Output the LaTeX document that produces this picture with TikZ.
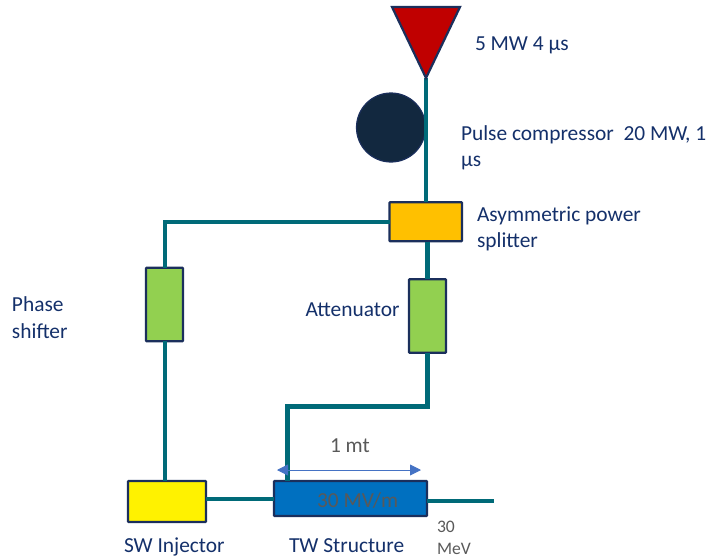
\documentclass[tikz,border=0pt]{standalone}
\usepackage{fontspec}
\setmainfont{Carlito}
\definecolor{teal1}{HTML}{006A78}
\definecolor{navy1}{HTML}{1B2F5C}
\definecolor{txt1}{HTML}{14306A}
\definecolor{grey1}{HTML}{595959}
\definecolor{dark1}{HTML}{12283F}
\definecolor{red1}{HTML}{C00000}
\definecolor{orange1}{HTML}{FFC000}
\definecolor{green1}{HTML}{92D050}
\definecolor{blue1}{HTML}{0070C0}
\definecolor{arrow1}{HTML}{4472C4}
\usetikzlibrary{arrows.meta}
\tikzset{
  box/.style={draw=navy1,line width=2.2pt,rounded corners=0.6pt,minimum width=#1,inner sep=0pt,outer sep=0pt},
  wire/.style={draw=teal1,line width=4pt},
  wirethick/.style={draw=teal1,line width=5pt},
  lab/.style={text=txt1,font=\fontsize{21.4}{26}\selectfont,inner sep=0pt,outer sep=0pt,align=left},
  glab/.style={text=grey1,font=\fontsize{21.4}{26}\selectfont,inner sep=0pt,outer sep=0pt,align=left},
}
\begin{document}
\begin{tikzpicture}[x=1pt,y=-1pt]
\useasboundingbox (0,0) rectangle (710,557);
\coordinate (tip) at (426,78);
\node[circle,draw=navy1,fill=dark1,line width=1.2pt,minimum size=69pt,inner sep=0pt,outer sep=0pt] (comp) at (391,127.5) {};
\node[box=72.5pt,fill=orange1,minimum height=39pt] (split) at (425.75,221.75) {};
\node[box=37pt,fill=green1,minimum height=73.5pt] (phase) at (164.5,304.5) {};
\node[box=37pt,fill=green1,minimum height=73.5pt] (atten) at (427.5,316) {};
\node[box=78pt,fill=yellow,minimum height=41pt] (inj) at (167,501.5) {};
\node[box=153pt,fill=blue1,minimum height=35pt] (tw) at (350.5,498.5) {};
\coordinate (out) at (494,501);
\coordinate (bend1) at (164.5,222);
\coordinate (bend2) at (427.5,406);
\coordinate (bend3) at (287.5,406);
\draw[wire] (tip) -- (split.north -| tip);
\draw[wire] (split.west |- bend1) -- (bend1) -- (phase.north);
\draw[wirethick] (427.5,241.5) -- (atten.north);
\draw[wirethick,line join=miter] (atten.south) -- (bend2) -- (bend3) -- (bend3 |- tw.north);
\draw[wire] (phase.south) -- (phase.south |- inj.north);
\draw[wire] (inj.east |- 0,499) -- (tw.west |- 0,499);
\draw[wire] (tw.east |- out) -- (out);
\draw[navy1,fill=red1,line width=2.2pt,line join=miter] (392,7) -- (460,7) -- (tip) -- cycle;
\coordinate (al) at (277,470);
\coordinate (ar) at (421,470);
\draw[arrow1,line width=0.9pt,{Triangle[length=11pt,width=11pt]}-{Triangle[length=11pt,width=11pt]}] (al) -- (ar);
\node[lab,anchor=base west] (t1) at (475,50.5) {5 MW 4 µs};
\node[lab,anchor=base west] (t2) at (461,140) {Pulse compressor\ \ 20 MW, 1};
\node[lab,anchor=base west] (t2b) at (461,166) {µs};
\node[lab,anchor=base west] (t3) at (477,221) {Asymmetric power};
\node[lab,anchor=base west] (t3b) at (477,247) {splitter};
\node[lab,anchor=base west] (t4) at (12,311) {Phase};
\node[lab,anchor=base west] (t4b) at (12,338) {shifter};
\node[lab,anchor=base west] (t5) at (305.5,316) {Attenuator};
\node[glab,anchor=base west] (t6) at (330,452) {1 mt};
\node[glab,anchor=base west] (t7) at (317,507) {30 MV/m};
\node[lab,anchor=base west] (t8) at (124,552) {SW Injector};
\node[lab,anchor=base west] (t9) at (289,552) {TW Structure};
\node[glab,anchor=base west,font=\fontsize{17.6}{20}\selectfont] (t10) at (437,532) {30};
\node[glab,anchor=base west,font=\fontsize{17.6}{20}\selectfont] (t10b) at (437,554) {MeV};
\end{tikzpicture}
\end{document}
